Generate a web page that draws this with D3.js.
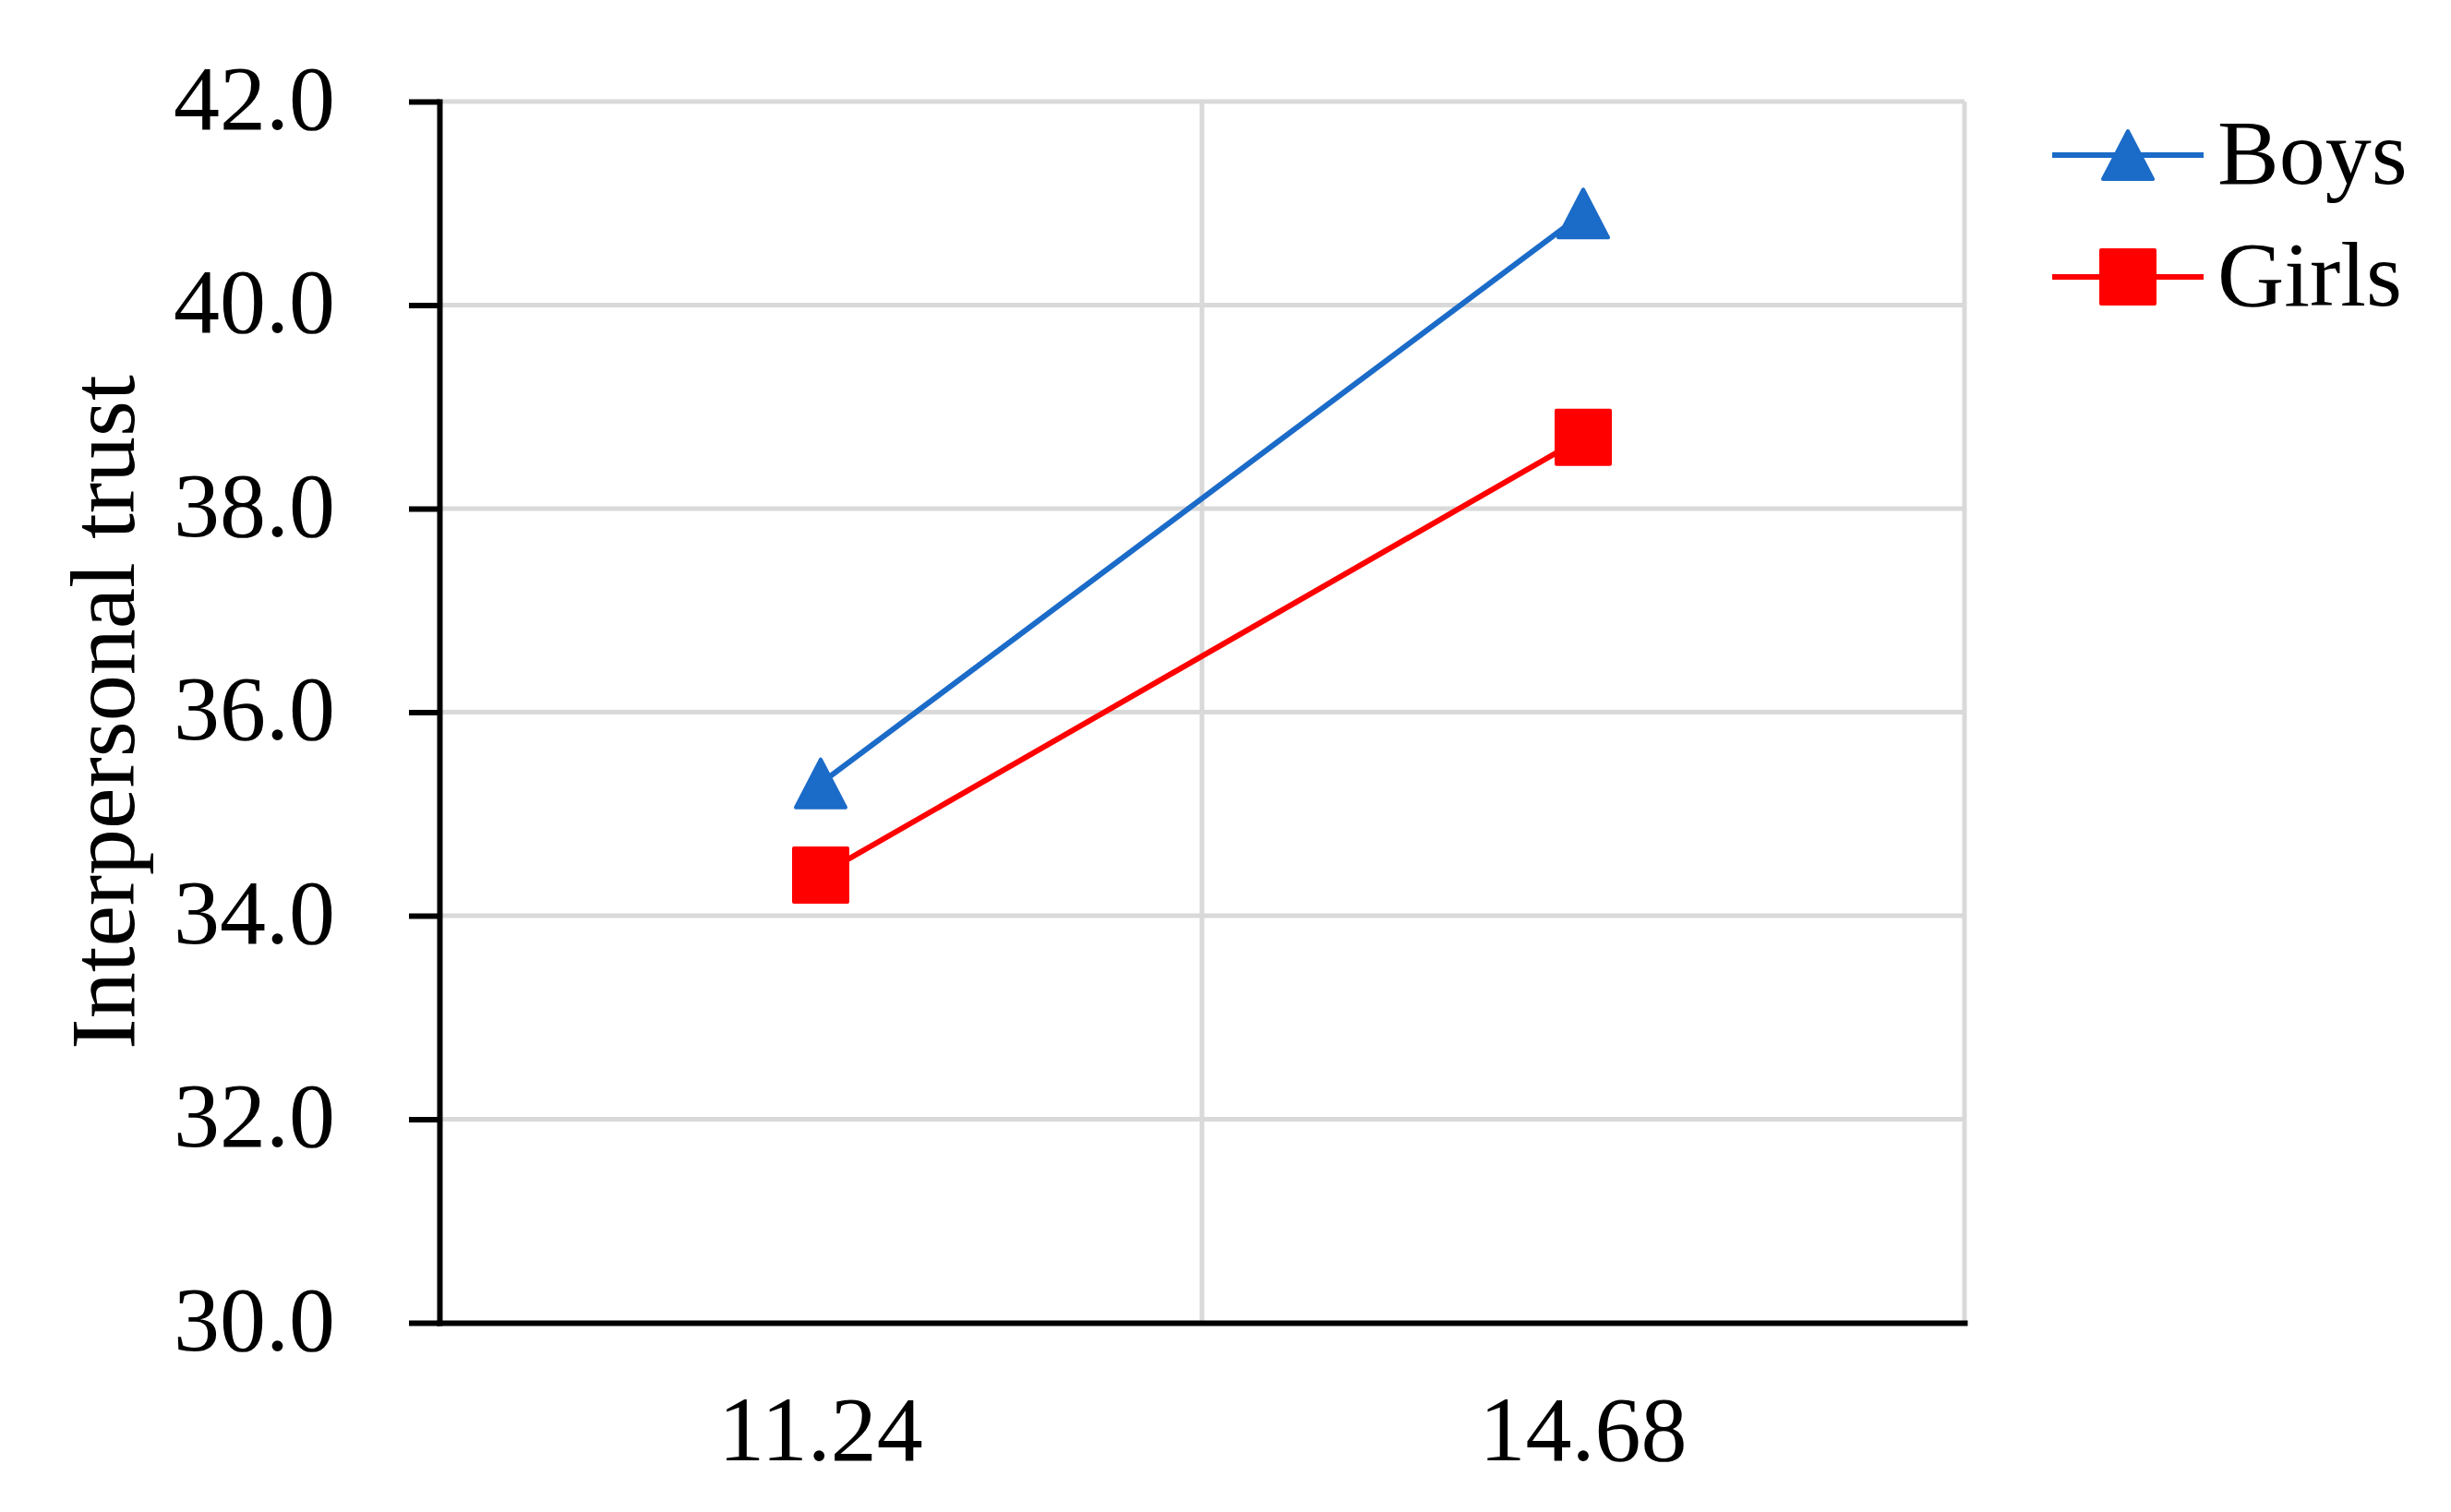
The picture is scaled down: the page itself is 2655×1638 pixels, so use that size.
<!DOCTYPE html>
<html>
<head>
<meta charset="utf-8">
<script src="https://cdn.jsdelivr.net/npm/d3@7"></script>
<style>
  html, body { margin: 0; padding: 0; background: #fff; }
  svg { display: block; }
  text { font-family: "Liberation Serif", "Times New Roman", serif; fill: #000; }
</style>
</head>
<body>
<svg id="chart" width="2655" height="1638"></svg>
<script>
// ---- data ----
const categories = ["11.24", "14.68"];
const boys = [35.3, 40.9];
const girls = [34.4, 38.7];
const yTicks = [30, 32, 34, 36, 38, 40, 42];
const seriesNames = ["Boys", "Girls"];
const yTitle = "Interpersonal trust";

// ---- layout ----
const plotL = 476, plotR = 2128, plotT = 110, plotB = 1433;
const FONT = 100;
const blue = "#1b6bc8", red = "#ff0000", gridC = "#d9d9d9";

const svg = d3.select("#chart");

const x = d3.scaleBand().domain(categories).range([plotL, plotR]).paddingInner(0).paddingOuter(0);
const y = d3.scaleLinear().domain([30, 42]).range([plotB, plotT]);

// gridlines
const g = svg.append("g");
g.selectAll("line.h").data(yTicks.filter(v => v > 30)).enter().append("line")
  .attr("x1", plotL).attr("x2", plotR)
  .attr("y1", d => y(d)).attr("y2", d => y(d))
  .attr("stroke", gridC).attr("stroke-width", 5);
const vlines = categories.map(c => x(c) + x.bandwidth());
g.selectAll("line.v").data(vlines).enter().append("line")
  .attr("x1", d => d).attr("x2", d => d)
  .attr("y1", plotT).attr("y2", plotB)
  .attr("stroke", gridC).attr("stroke-width", 5);

// y axis
const yAxis = svg.append("g").attr("transform", `translate(${plotL},0)`)
  .call(d3.axisLeft(y).tickValues(yTicks).tickFormat(d3.format(".1f"))
        .tickSize(33).tickSizeOuter(0).tickPadding(80));
yAxis.select(".domain").attr("stroke", "#000").attr("stroke-width", 6).attr("stroke-linecap", "square");
yAxis.selectAll(".tick line").attr("stroke", "#000").attr("stroke-width", 6);
yAxis.selectAll(".tick text")
  .attr("font-family", "Liberation Serif, Times New Roman, serif")
  .attr("font-size", FONT).attr("dy", "0.29em").attr("fill", "#000");

// x axis
const xAxis = svg.append("g").attr("transform", `translate(0,${plotB})`)
  .call(d3.axisBottom(x).tickSize(0).tickSizeOuter(0).tickPadding(78));
xAxis.select(".domain").attr("stroke", "#000").attr("stroke-width", 6).attr("stroke-linecap", "square");
xAxis.selectAll(".tick text")
  .attr("font-family", "Liberation Serif, Times New Roman, serif")
  .attr("font-size", FONT).attr("fill", "#000");

// y title
svg.append("text")
  .attr("transform", `translate(145,${(plotT + plotB) / 2}) rotate(-90)`)
  .attr("text-anchor", "middle")
  .attr("font-size", FONT)
  .text(yTitle);

// markers
function tri(cx, cy) {
  return `M${cx},${cy - 26} L${cx + 27},${cy + 26} L${cx - 27},${cy + 26} Z`;
}
function sq(cx, cy) {
  const s = 29;
  return `M${cx - s},${cy - s} H${cx + s} V${cy + s} H${cx - s} Z`;
}
const cxOf = d => x(d) + x.bandwidth() / 2;
const line = d3.line().x(d => cxOf(d[0])).y(d => y(d[1]));

const series = [
  { name: seriesNames[0], values: boys, color: blue, shape: tri },
  { name: seriesNames[1], values: girls, color: red, shape: sq }
];

series.forEach(s => {
  const pts = categories.map((c, i) => [c, s.values[i]]);
  svg.append("path").attr("d", line(pts)).attr("fill", "none")
    .attr("stroke", s.color).attr("stroke-width", 6);
  svg.selectAll(null).data(pts).enter().append("path")
    .attr("d", d => s.shape(cxOf(d[0]), y(d[1])))
    .attr("fill", s.color).attr("stroke", s.color)
    .attr("stroke-width", 4).attr("stroke-linejoin", "round");
});

// legend
const legY = [168, 300];
series.forEach((s, i) => {
  const ly = legY[i];
  svg.append("line").attr("x1", 2223).attr("x2", 2387).attr("y1", ly).attr("y2", ly)
    .attr("stroke", s.color).attr("stroke-width", 6);
  svg.append("path").attr("d", s.shape(2305, ly))
    .attr("fill", s.color).attr("stroke", s.color)
    .attr("stroke-width", 4).attr("stroke-linejoin", "round");
  svg.append("text").attr("x", 2402).attr("y", ly + 31)
    .attr("font-size", FONT).text(s.name);
});
</script>
</body>
</html>
